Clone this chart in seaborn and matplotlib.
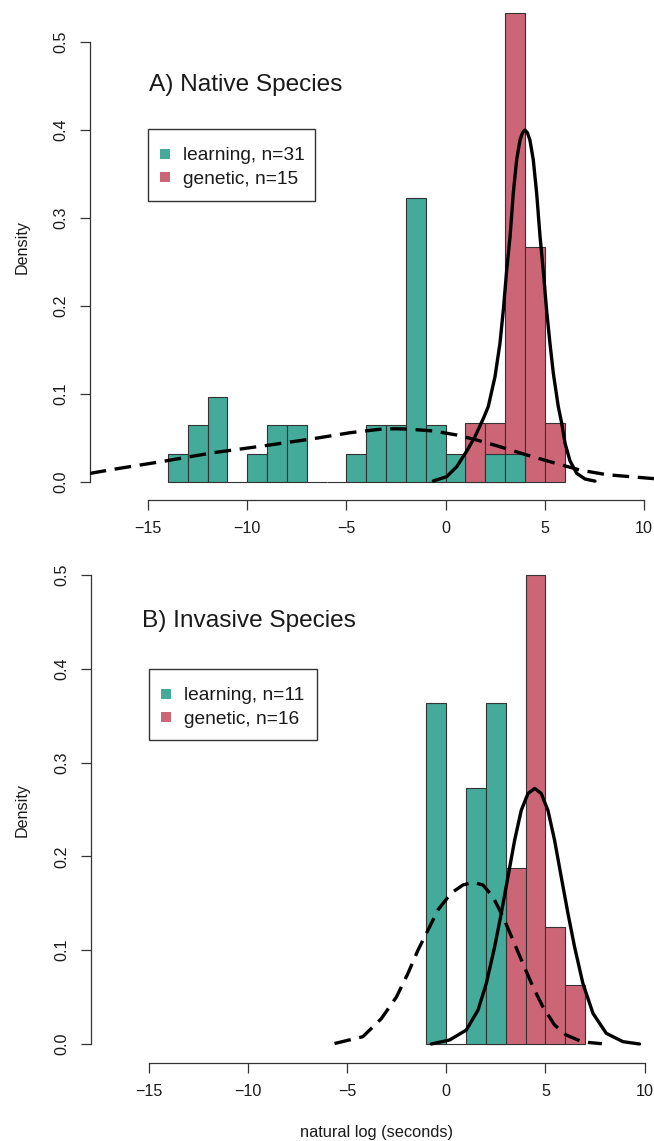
import numpy as np
import pandas as pd
import matplotlib
matplotlib.use("Agg")
import matplotlib.pyplot as plt
from matplotlib.lines import Line2D
from matplotlib.patches import Rectangle
from matplotlib.ticker import FormatStrFormatter
import seaborn as sns

# ---- histogram data: left edge of each unit-width bin and the count in it ----
native_learning_bins = list(range(-14, 4))
native_learning_counts = [1, 2, 3, 0, 1, 2, 2, 0, 0, 1, 2, 2, 10, 2, 1, 0, 1, 1]
native_genetic_bins = [1, 2, 3, 4, 5]
native_genetic_counts = [1, 1, 8, 4, 1]

invasive_learning_bins = [-1, 0, 1, 2]
invasive_learning_counts = [4, 0, 3, 4]
invasive_genetic_bins = [2, 3, 4, 5, 6]
invasive_genetic_counts = [2, 3, 8, 2, 1]

# ---- density curves ----
native_learning_curve_x = [-17.94, -16.75, -14.23, -11.71, -9.19, -6.67, -4.82, -3.31,
                           -2.6, -1.96, -0.62, 0.56, 1.57, 2.74, 4.09, 5.43, 6.77,
                           8.12, 10.50]
native_learning_curve_y = [0.0097, 0.0144, 0.0235, 0.0333, 0.0410, 0.0492, 0.0560, 0.0599,
                           0.0605, 0.0602, 0.0580, 0.0534, 0.0477, 0.0401, 0.0307, 0.0220,
                           0.0136, 0.0083, 0.0038]

native_genetic_curve_x = [-0.62, 0.05, 0.56, 1.06, 1.48, 1.90, 2.15, 2.49, 2.74, 2.91,
                          3.08, 3.25, 3.41, 3.58, 3.75, 3.88, 4.00, 4.12, 4.25, 4.42,
                          4.59, 4.76, 4.92, 5.09, 5.26, 5.43, 5.68, 5.85, 6.02, 6.27,
                          6.61, 7.03, 7.53]
native_genetic_curve_y = [0.0012, 0.0060, 0.0174, 0.0350, 0.0515, 0.0720, 0.0856, 0.1197,
                          0.1576, 0.1955, 0.2410, 0.2790, 0.3280, 0.3660, 0.3886, 0.3970,
                          0.4000, 0.3970, 0.3886, 0.3660, 0.3280, 0.2790, 0.2410, 0.1955,
                          0.1576, 0.1235, 0.0856, 0.0670, 0.0440, 0.0240, 0.0098, 0.0034,
                          0.0010]

invasive_learning_curve_x = [-5.64, -4.21, -3.28, -2.52, -1.94, -1.43, -0.84, -0.42, 0.25,
                             0.84, 1.34, 1.85, 2.35, 2.86, 3.36, 3.86, 4.37, 4.87, 5.46,
                             6.05, 6.73, 7.23, 7.85]
invasive_learning_curve_y = [0.0005, 0.0078, 0.0270, 0.0500, 0.0750, 0.1000, 0.1250, 0.1430,
                             0.1610, 0.1695, 0.1724, 0.1695, 0.1570, 0.1357, 0.1109, 0.0860,
                             0.0610, 0.0398, 0.0203, 0.0096, 0.0035, 0.0015, 0.0003]

invasive_genetic_curve_x = [-0.76, 0.17, 1.01, 1.60, 2.02, 2.44, 2.77, 3.11, 3.45, 3.78,
                            4.12, 4.46, 4.79, 5.13, 5.46, 5.80, 6.14, 6.47, 6.89, 7.40,
                            8.07, 8.91, 9.75]
invasive_genetic_curve_y = [0.0000, 0.0043, 0.0149, 0.0362, 0.0647, 0.1037, 0.1390, 0.1780,
                            0.2175, 0.2490, 0.2670, 0.2725, 0.2670, 0.2490, 0.2175, 0.1780,
                            0.1390, 0.1037, 0.0647, 0.0327, 0.0114, 0.0025, 0.0000]

x_ticks = [-15, -10, -5, 0, 5, 10]
y_ticks = [0.0, 0.1, 0.2, 0.3, 0.4, 0.5]

TEAL = "#44AA99"
ROSE = "#CC6677"
EDGE = "#333333"
INK = "#1a1a1a"

sns.set_style("ticks")
plt.rcParams["font.family"] = ["Liberation Sans", "DejaVu Sans"]
plt.rcParams["axes.unicode_minus"] = True

W, H = 654, 1141
fig = plt.figure(figsize=(W / 100, H / 100), dpi=100)


def px_axes(left, right, top, bottom):
    """Create an axes from pixel edges of the canvas."""
    return fig.add_axes([left / W, 1 - bottom / H, (right - left) / W, (bottom - top) / H])


def draw_hist(ax, lefts, counts, color):
    lefts = [float(v) for v in lefts]
    edges = lefts + [lefts[-1] + 1.0]
    df = pd.DataFrame({"value": [v + 0.5 for v in lefts],
                       "count": [float(c) for c in counts]})
    sns.histplot(data=df, x="value", weights="count", bins=edges, stat="density",
                 color=color, alpha=1, edgecolor=EDGE, linewidth=0.8, ax=ax)


def style_axes(ax, xlim, ylim):
    ax.set_xlim(*xlim)
    ax.set_ylim(*ylim)
    ax.set_xlabel("")
    ax.set_ylabel("")
    for side in ("top", "right"):
        ax.spines[side].set_visible(False)
    ax.spines["left"].set_bounds(0, 0.5)
    ax.spines["bottom"].set_bounds(-15, 10)
    for side in ("left", "bottom"):
        ax.spines[side].set_color(EDGE)
        ax.spines[side].set_linewidth(0.9)
    ax.set_xticks(x_ticks)
    ax.set_yticks(y_ticks)
    ax.yaxis.set_major_formatter(FormatStrFormatter("%.1f"))
    ax.tick_params(axis="both", direction="out", length=7.2, width=0.9, color=EDGE,
                   labelsize=11.6, pad=8.0, labelcolor=INK)
    for lab in ax.get_yticklabels():
        lab.set_rotation(90)
        lab.set_va("center")
        lab.set_ha("right")
    ax.set_facecolor("white")


def draw_curves(ax, lx, ly, gx, gy):
    ax.plot(lx, ly, color="black", lw=2.4, linestyle=(0, (5, 2.6)),
            dash_capstyle="butt", zorder=5)
    ax.plot(gx, gy, color="black", lw=2.4, solid_capstyle="round",
            solid_joinstyle="round", zorder=5)


def add_legend(ax, box, n_learning, n_genetic):
    """Legend entries inside a plain rectangular box given in canvas pixels."""
    left, top, right, bottom = box
    ax.add_patch(Rectangle((left / W, 1 - bottom / H), (right - left) / W,
                           (bottom - top) / H, transform=fig.transFigure,
                           facecolor="white", edgecolor=EDGE, linewidth=1.0,
                           clip_on=False, zorder=6))
    handles = [
        Line2D([], [], marker="s", linestyle="none", markersize=6.5,
               markerfacecolor=TEAL, markeredgewidth=0),
        Line2D([], [], marker="s", linestyle="none", markersize=6.5,
               markerfacecolor=ROSE, markeredgewidth=0),
    ]
    labels = [f"learning, n={n_learning}", f"genetic, n={n_genetic}"]
    leg = ax.legend(handles, labels, loc="upper left",
                    bbox_to_anchor=((left + 12.7) / W, 1 - (top + 18.0) / H),
                    bbox_transform=fig.transFigure, borderaxespad=0, borderpad=0,
                    fontsize=13.8, frameon=False, labelspacing=0.33,
                    handlelength=0.45, handletextpad=0.7)
    leg.set_zorder(7)
    for t in leg.get_texts():
        t.set_color(INK)
    return leg


# ---- A) native species ----
ax1 = px_axes(89.6, 654, 0, 500)
draw_hist(ax1, native_genetic_bins, native_genetic_counts, ROSE)
draw_hist(ax1, native_learning_bins, native_learning_counts, TEAL)
draw_curves(ax1, native_learning_curve_x, native_learning_curve_y,
            native_genetic_curve_x, native_genetic_curve_y)
style_axes(ax1, (-15 + (89.6 - 148) / 19.84, -15 + (654 - 148) / 19.84),
           ((482 - 500) / 880, 482 / 880))
add_legend(ax1, (148, 129, 315, 201), sum(native_learning_counts),
           sum(native_genetic_counts))
fig.text(149 / W, 1 - 85 / H, "A) Native Species", fontsize=17.6, color=INK,
         ha="left", va="center")

# ---- B) invasive species ----
ax2 = px_axes(90.8, 654, 556, 1063)
draw_hist(ax2, invasive_genetic_bins, invasive_genetic_counts, ROSE)
draw_hist(ax2, invasive_learning_bins, invasive_learning_counts, TEAL)
draw_curves(ax2, invasive_learning_curve_x, invasive_learning_curve_y,
            invasive_genetic_curve_x, invasive_genetic_curve_y)
style_axes(ax2, (-15 + (90.8 - 149) / 19.82, -15 + (654 - 149) / 19.82),
           ((1044 - 1063) / 938, (1044 - 556) / 938))
add_legend(ax2, (149, 669, 317, 740), sum(invasive_learning_counts),
           sum(invasive_genetic_counts))
fig.text(142 / W, 1 - 621 / H, "B) Invasive Species", fontsize=17.6, color=INK,
         ha="left", va="center")

# ---- shared axis titles ----
fig.text(22 / W, 1 - 247 / H, "Density", rotation=90, fontsize=11.6, color=INK,
         ha="center", va="center")
fig.text(22 / W, 1 - 810 / H, "Density", rotation=90, fontsize=11.6, color=INK,
         ha="center", va="center")
fig.text(377 / W, 1 - 1132 / H, "natural log (seconds)", fontsize=11.8, color=INK,
         ha="center", va="center")

fig.savefig("out.png", dpi=100, facecolor="white")
